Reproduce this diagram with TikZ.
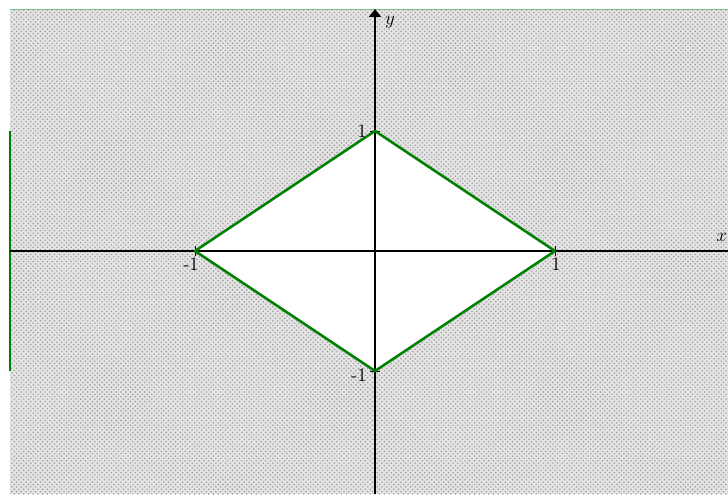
\documentclass[tikz,border=0pt]{standalone}
\usepackage{amssymb,amsmath}
\usepackage[svgnames]{xcolor}
\usetikzlibrary{arrows.meta}
\usetikzlibrary{patterns}
\tikzset{lbl/.style = {inner sep = 0, font = \large}}
\tikzset{tk/.style = {line width = 0.6pt}}
\definecolor{mgreen}{rgb}{0, 0.5, 0}
\definecolor{mgray}{rgb}{0.6, 0.6, 0.6}

\begin{document}
\begin{tikzpicture}[x=4cm, y=2.6667cm]
      \useasboundingbox (-2.0833, -2.025) rectangle (1.9611, 2.0917);
      \fill [white] (-2.0833, -2.025) rectangle (1.9611, 2.0917);
      \fill [gray!22] (-2.0278, -2.025) rectangle (1.9611, 2.0167);
      \fill [pattern = crosshatch dots, pattern color = mgray]
      (-2.0278, -2.025) rectangle (1.9611, 2.0167);
      \draw [mgreen!50, line width = 0.6pt] (-2.0278, 2.0167) -- (1.9611, 2.0167);
      \draw [mgreen, line width = 0.8pt] (-2.0278, -1) -- (-2.0278, 1);
      % the diamond
      \coordinate (l) at (-1, 0);
      \coordinate (r) at (1, 0);
      \coordinate (t) at (0, 1);
      \coordinate (b) at (0, -1);
      \fill [white] (l) -- (t) -- (r) -- (b) -- cycle;
      % axes
      \coordinate (xs) at (-2.0278, 0);
      \coordinate (xe) at (1.9611, 0);
      \coordinate (ys) at (0, -2.025);
      \coordinate (ye) at (0, 2.0167);
      \draw [line width = 1.2pt] (xs) -- (xe);
      \draw [line width = 1.2pt, -{Triangle[width = 7.5pt, length = 5pt]}] (ys) -- (ye);
      \node [lbl, anchor = east] (xl) at (1.957, 0.117) {$x$};
      \node [lbl] (yl) at (0.083, 1.905) {$y$};
      % ticks
      \draw [tk] (-1, -0.045) -- (-1, 0.045);
      \draw [tk] (1, -0.045) -- (1, 0.045);
      \draw [tk] (-0.028, 1) -- (0.028, 1);
      \draw [tk] (-0.028, -1) -- (0.028, -1);
      \node [lbl] (n1) at (-1.022, -0.108) {-1};
      \node [lbl] (p1) at (1.006, -0.108) {1};
      \node [lbl] (q1) at (-0.072, 1.0) {1};
      \node [lbl] (m1) at (-0.089, -1.033) {-1};
      \draw [mgreen, line width = 1.6pt, line join = round]
      (l) -- (t) -- (r) -- (b) -- cycle;
    \end{tikzpicture}
\end{document}
